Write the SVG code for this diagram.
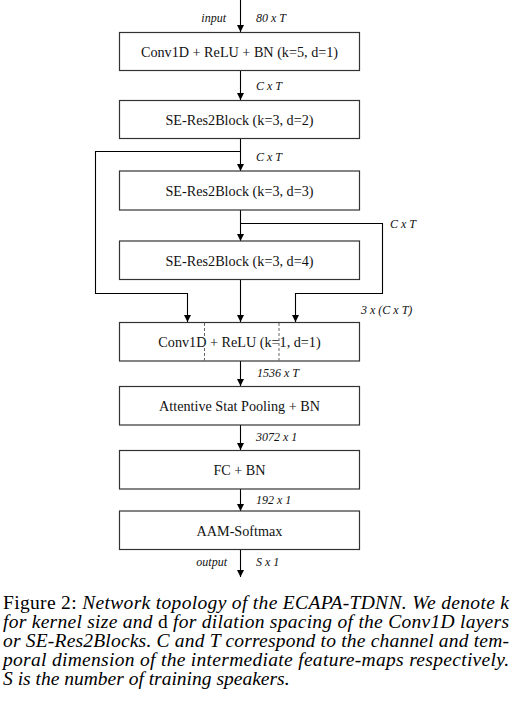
<svg xmlns="http://www.w3.org/2000/svg" width="515" height="719" viewBox="0 0 515 719">
<defs>
<marker id="ah" viewBox="0 0 10 10" refX="10" refY="5" markerWidth="7" markerHeight="8" markerUnits="userSpaceOnUse" orient="auto">
<path d="M0,0 L10,5 L0,10 z" fill="#000"/>
</marker>
</defs>
<style>
.box{fill:#fff;stroke:#333;stroke-width:1.2}
.bt{font-family:"Liberation Serif",serif;font-size:14.2px;fill:#111;text-anchor:middle}
.lb{font-family:"Liberation Serif",serif;font-size:12px;font-style:italic;fill:#111}
.ln{fill:none;stroke:#000;stroke-width:1.1}
.dash{stroke:#555;stroke-width:0.9;stroke-dasharray:3,2}
.cap{font-family:"Liberation Serif",serif;font-size:19.5px;fill:#000}
.it{font-style:italic}
</style>
<rect width="515" height="719" fill="#fff"/>
<g id="connectors">
<line class="ln" x1="240.5" y1="0" x2="240.5" y2="32" marker-end="url(#ah)"/>
<line class="ln" x1="240.5" y1="71" x2="240.5" y2="100" marker-end="url(#ah)"/>
<line class="ln" x1="240.5" y1="138" x2="240.5" y2="171" marker-end="url(#ah)"/>
<line class="ln" x1="240.5" y1="210" x2="240.5" y2="241" marker-end="url(#ah)"/>
<line class="ln" x1="240.5" y1="279" x2="240.5" y2="322" marker-end="url(#ah)"/>
<polyline class="ln" points="240.5,151.5 95.5,151.5 95.5,293.5 187.5,293.5 187.5,322" marker-end="url(#ah)"/>
<polyline class="ln" points="240.5,223.5 382.5,223.5 382.5,293.5 295.5,293.5 295.5,322" marker-end="url(#ah)"/>
<line class="ln" x1="240.5" y1="361" x2="240.5" y2="386" marker-end="url(#ah)"/>
<line class="ln" x1="240.5" y1="425" x2="240.5" y2="450" marker-end="url(#ah)"/>
<line class="ln" x1="240.5" y1="489" x2="240.5" y2="511" marker-end="url(#ah)"/>
<line class="ln" x1="240.5" y1="549" x2="240.5" y2="577" marker-end="url(#ah)"/>
</g>
<g id="labels">
<text class="lb" x="226" y="22" text-anchor="end">input</text>
<text class="lb" x="256" y="22">80 x T</text>
<text class="lb" x="256" y="90">C x T</text>
<text class="lb" x="256" y="161">C x T</text>
<text class="lb" x="390" y="228">C x T</text>
<text class="lb" x="361" y="314">3 x (C x T)</text>
<text class="lb" x="257" y="377">1536 x T</text>
<text class="lb" x="256" y="441">3072 x 1</text>
<text class="lb" x="256" y="504">192 x 1</text>
<text class="lb" x="227" y="566" text-anchor="end">output</text>
<text class="lb" x="256" y="566">S x 1</text>
</g>
<g id="n1"><rect class="box" x="119.5" y="32.5" width="240" height="38"/><text class="bt" x="239.5" y="57">Conv1D + ReLU + BN (k=5, d=1)</text></g>
<g id="n2"><rect class="box" x="119.5" y="100.5" width="240" height="38"/><text class="bt" x="239.5" y="125">SE-Res2Block (k=3, d=2)</text></g>
<g id="n3"><rect class="box" x="119.5" y="171" width="240" height="39"/><text class="bt" x="239.5" y="195.5">SE-Res2Block (k=3, d=3)</text></g>
<g id="n4"><rect class="box" x="119.5" y="241" width="240" height="38.5"/><text class="bt" x="239.5" y="265.5">SE-Res2Block (k=3, d=4)</text></g>
<g id="n5"><rect class="box" x="119.5" y="322.5" width="240" height="38.5"/><text class="bt" x="239.5" y="347">Conv1D + ReLU (k=1, d=1)</text>
<line class="dash" x1="204.5" y1="323" x2="204.5" y2="360.5"/><line class="dash" x1="279" y1="323" x2="279" y2="360.5"/></g>
<g id="n6"><rect class="box" x="119.5" y="386.5" width="240" height="38.5"/><text class="bt" x="239.5" y="411">Attentive Stat Pooling + BN</text></g>
<g id="n7"><rect class="box" x="119.5" y="450.5" width="240" height="38.5"/><text class="bt" x="239.5" y="475">FC + BN</text></g>
<g id="n8"><rect class="box" x="119.5" y="511" width="240" height="38.5"/><text class="bt" x="239.5" y="535.5">AAM-Softmax</text></g>
<g id="caption">
<text class="cap" x="3" y="609" textLength="506" lengthAdjust="spacing">Figure 2: <tspan class="it">Network topology of the ECAPA-TDNN. We denote k</tspan></text>
<text class="cap" x="3" y="628" textLength="506" lengthAdjust="spacing"><tspan class="it">for kernel size and </tspan>d<tspan class="it"> for dilation spacing of the Conv1D layers</tspan></text>
<text class="cap it" x="3" y="647" textLength="506" lengthAdjust="spacing">or SE-Res2Blocks. C and T correspond to the channel and tem-</text>
<text class="cap it" x="3" y="666" textLength="506" lengthAdjust="spacing">poral dimension of the intermediate feature-maps respectively.</text>
<text class="cap it" x="3" y="685">S is the number of training speakers.</text>
</g>
</svg>
